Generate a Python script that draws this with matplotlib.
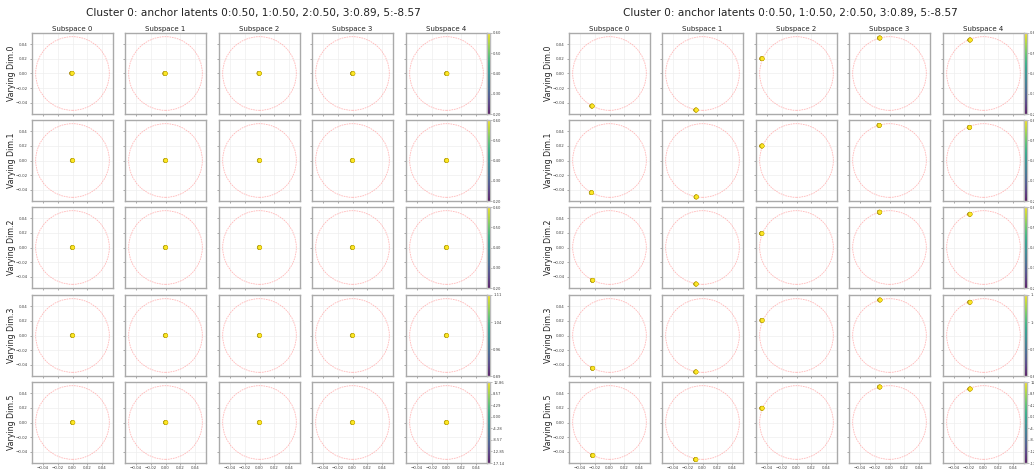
import numpy as np
import matplotlib
matplotlib.use("Agg")
import matplotlib.pyplot as plt
from matplotlib.ticker import FormatStrFormatter

title = "Cluster 0: anchor latents 0:0.50, 1:0.50, 2:0.50, 3:0.89, 5:-8.57"
subspaces = ["Subspace 0", "Subspace 1", "Subspace 2", "Subspace 3", "Subspace 4"]
row_labels = ["Varying Dim.0", "Varying Dim.1", "Varying Dim.2", "Varying Dim.3", "Varying Dim.5"]

# colour range of the traversed latent in each row
row_vmin = [0.20, 0.20, 0.20, 0.89, -17.14]
row_vmax = [0.60, 0.60, 0.60, 1.11, 12.86]
row_nticks = [5, 5, 5, 4, 8]

# traversal values (one point per value)
traversal = [
    [0.20, 0.30, 0.40, 0.50, 0.60],
    [0.20, 0.30, 0.40, 0.50, 0.60],
    [0.20, 0.30, 0.40, 0.50, 0.60],
    [0.89, 0.96, 1.04, 1.11],
    [-17.14, -8.57, 0.00, 8.57, 12.86],
]

# left run: codes sit at the centre of every subspace
left_x = [
    [-0.0008, -0.0006, -0.0004, 0.0003, 0.0003],
    [0.0000, 0.0000, 0.0000, 0.0000, 0.0000],
    [0.0000, 0.0000, 0.0000, 0.0000, 0.0000],
    [0.0000, 0.0000, 0.0000, 0.0000, 0.0000],
    [0.0002, 0.0002, 0.0000, 0.0000, 0.0000],
]
left_y = [
    [0.0003, 0.0000, 0.0002, 0.0000, -0.0002],
    [0.0000, 0.0000, 0.0000, 0.0000, 0.0000],
    [0.0000, 0.0000, 0.0000, 0.0000, 0.0000],
    [0.0000, 0.0000, 0.0000, 0.0000, 0.0000],
    [0.0000, 0.0000, 0.0000, 0.0000, 0.0000],
]

# right run: codes pushed out onto the circle (radius 0.05)
right_x = [
    [-0.0238, -0.0088, -0.0469, -0.0133, -0.0183],
    [-0.0245, -0.0085, -0.0470, -0.0140, -0.0190],
    [-0.0230, -0.0088, -0.0472, -0.0135, -0.0185],
    [-0.0230, -0.0090, -0.0468, -0.0130, -0.0185],
    [-0.0228, -0.0092, -0.0469, -0.0133, -0.0183],
]
right_y = [
    [-0.0442, -0.0496, 0.0201, 0.0482, 0.0455],
    [-0.0437, -0.0495, 0.0197, 0.0477, 0.0450],
    [-0.0445, -0.0496, 0.0190, 0.0480, 0.0452],
    [-0.0445, -0.0495, 0.0205, 0.0482, 0.0452],
    [-0.0448, -0.0503, 0.0194, 0.0482, 0.0455],
]

W, H = 1034, 469
fig = plt.figure(figsize=(W / 100, H / 100), dpi=100)

col_left = [32, 125, 219, 312, 406]
row_top = [33, 120, 207, 295, 382]
size = 81
lim = 0.055
spine_c = "#aaaaaa"


def px_axes(x, y, w, h):
    return fig.add_axes([x / W, 1 - (y + h) / H, w / W, h / H])


def draw_panel(x0, xs, ys):
    fig.text((x0 + 253) / W, 1 - 13 / H, title, ha="center", va="center",
             fontsize=7.6, color="#222222")
    for r in range(5):
        for c in range(5):
            ax = px_axes(x0 + col_left[c], row_top[r], size, size)
            ax.set_xlim(-lim, lim)
            ax.set_ylim(-lim, lim)
            ax.set_xticks([-0.04, -0.02, 0.0, 0.02, 0.04])
            ax.set_yticks([-0.04, -0.02, 0.0, 0.02, 0.04])
            ax.grid(True, color="#eeeeee", lw=0.5)
            ax.set_axisbelow(True)
            for s in ax.spines.values():
                s.set_color(spine_c)
                s.set_linewidth(1.0)
            ax.tick_params(length=1.5, width=0.5, color="#888888",
                           labelsize=2.9, labelcolor="#444444", pad=1.5)
            ax.tick_params(axis="x", pad=1.0)
            if r < 4:
                ax.tick_params(labelbottom=False)
            if c > 0:
                ax.tick_params(labelleft=False)
            ax.add_patch(plt.Circle((0, 0), 0.05, fill=False, color="#ff9999",
                                    lw=0.6, ls=(0, (2, 1)), alpha=0.7))
            vals = traversal[r]
            n = len(vals)
            px = np.full(n, xs[r][c]) + np.linspace(-0.0004, 0.0004, n)
            py = np.full(n, ys[r][c])
            sc = ax.scatter(px, py, c=vals, cmap="viridis", vmin=row_vmin[r],
                            vmax=row_vmax[r], s=9, edgecolors="#c8a000",
                            linewidths=0.3, zorder=3)
            if r == 0:
                ax.set_title(subspaces[c], fontsize=5, pad=1.5, color="#222222")
            if c == 0:
                ax.set_ylabel(row_labels[r], fontsize=5.6, color="#222222")
                ax.yaxis.set_label_coords(-0.2, 0.5)
            if c == 4:
                cax = px_axes(x0 + col_left[c] + size, row_top[r], 3, size)
                cb = fig.colorbar(sc, cax=cax)
                cb.set_ticks(np.linspace(row_vmin[r], row_vmax[r], row_nticks[r]))
                cb.ax.yaxis.set_major_formatter(FormatStrFormatter("%.2f"))
                cb.ax.tick_params(labelsize=2.7, length=1.2, width=0.4,
                                  color="#888888", labelcolor="#444444", pad=1)
                cb.outline.set_edgecolor("#bbbbbb")
                cb.outline.set_linewidth(1.0)


draw_panel(0, left_x, left_y)
draw_panel(537, right_x, right_y)

fig.savefig("out.png", dpi=100)
